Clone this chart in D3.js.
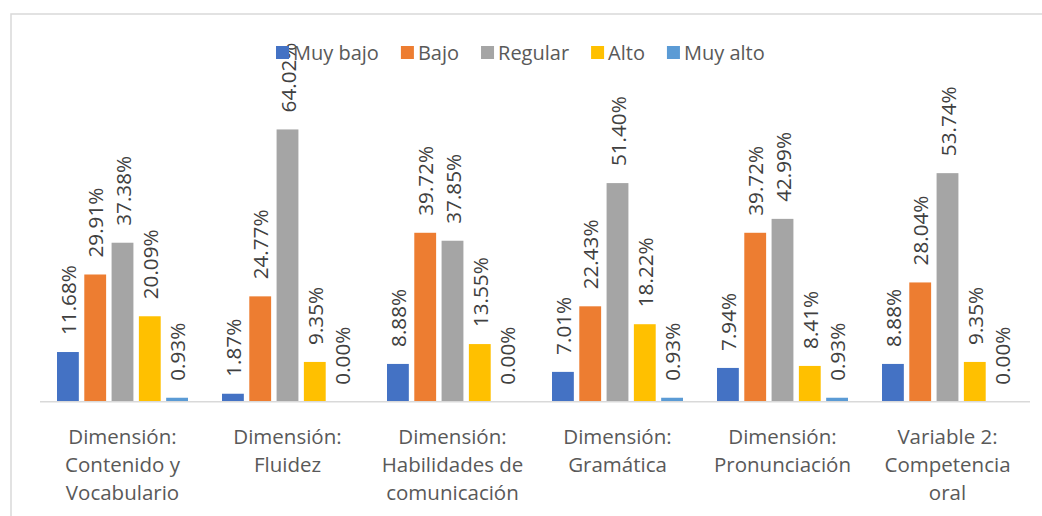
<!DOCTYPE html>
<html>
<head>
<meta charset="utf-8">
<script src="https://cdn.jsdelivr.net/npm/d3@7"></script>
<style>
  html, body { margin: 0; padding: 0; background: #fff; }
  svg { display: block; }
  text { font-family: "Open Sans", "Noto Sans", sans-serif; }
</style>
</head>
<body>
<svg id="chart" width="1042" height="516"></svg>
<script>
const categories = [
  ["Dimensión:", "Contenido y", "Vocabulario"],
  ["Dimensión:", "Fluidez"],
  ["Dimensión:", "Habilidades de", "comunicación"],
  ["Dimensión:", "Gramática"],
  ["Dimensión:", "Pronunciación"],
  ["Variable 2:", "Competencia", "oral"]
];
const seriesNames = ["Muy bajo", "Bajo", "Regular", "Alto", "Muy alto"];
const muyBajo = [11.68, 1.87, 8.88, 7.01, 7.94, 8.88];
const bajo    = [29.91, 24.77, 39.72, 22.43, 39.72, 28.04];
const regular = [37.38, 64.02, 37.85, 51.40, 42.99, 53.74];
const alto    = [20.09, 9.35, 13.55, 18.22, 8.41, 9.35];
const muyAlto = [0.93, 0.00, 0.00, 0.93, 0.93, 0.00];
const seriesValues = [muyBajo, bajo, regular, alto, muyAlto];
const colors = ["#4472C4", "#ED7D31", "#A5A5A5", "#FFC000", "#5B9BD5"];

const svg = d3.select("#chart");

// chart border (extends beyond the visible area on right/bottom)
svg.append("rect")
  .attr("x", 11).attr("y", 14)
  .attr("width", 1100).attr("height", 600)
  .attr("fill", "none").attr("stroke", "#d9d9d9").attr("stroke-width", 1.5);

const catIdx = categories.map((d, i) => i);
const x0 = d3.scaleBand().domain(catIdx).range([40, 1030]).padding(0);
const x1 = d3.scaleBand().domain(d3.range(seriesNames.length))
  .range([17, x0.bandwidth() - 17]).paddingInner(0.2).paddingOuter(0);
const y = d3.scaleLinear().domain([0, 70]).range([401.7, 104]);

// bars
const groups = svg.append("g").selectAll("g")
  .data(catIdx).join("g")
  .attr("transform", i => `translate(${x0(i)},0)`);

groups.selectAll("rect")
  .data(i => seriesValues.map((vals, s) => ({ s, v: vals[i] })))
  .join("rect")
  .attr("x", d => x1(d.s))
  .attr("width", x1.bandwidth())
  .attr("y", d => y(d.v))
  .attr("height", d => y(0) - y(d.v))
  .attr("fill", d => colors[d.s]);

// data labels
groups.selectAll("text.lbl")
  .data(i => seriesValues.map((vals, s) => ({ s, v: vals[i] })))
  .join("text")
  .attr("class", "lbl")
  .attr("transform", d => `translate(${x1(d.s) + x1.bandwidth() / 2 + 0.8},${y(d.v) - 17}) rotate(-90)`)
  .attr("dy", "0.36em")
  .attr("text-anchor", "start")
  .attr("font-size", "20.7px")
  .attr("fill", "#404040")
  .text(d => d.v.toFixed(2) + "%");

// baseline
svg.append("line")
  .attr("x1", 40).attr("x2", 1030)
  .attr("y1", y(0)).attr("y2", y(0))
  .attr("stroke", "#d9d9d9").attr("stroke-width", 1.5);

// category labels
const catLabels = svg.append("g").selectAll("text")
  .data(catIdx).join("text")
  .attr("text-anchor", "middle")
  .attr("font-size", "20.5px")
  .attr("fill", "#595959")
  .attr("x", i => x0(i) + x0.bandwidth() / 2)
  .attr("y", 444);
catLabels.selectAll("tspan")
  .data(i => categories[i].map(t => ({ t, i })))
  .join("tspan")
  .attr("x", d => x0(d.i) + x0.bandwidth() / 2)
  .attr("dy", (d, k) => k === 0 ? 0 : 28)
  .text(d => d.t);

// legend
const legend = svg.append("g");
let lx = 276;
seriesNames.forEach((name, s) => {
  legend.append("rect")
    .attr("x", lx).attr("y", 46)
    .attr("width", 13).attr("height", 13)
    .attr("fill", colors[s]);
  const t = legend.append("text")
    .attr("x", lx + 17).attr("y", 60)
    .attr("font-size", "20px")
    .attr("fill", "#595959")
    .text(name);
  lx = lx + 17 + t.node().getComputedTextLength() + 22;
});
</script>
</body>
</html>
